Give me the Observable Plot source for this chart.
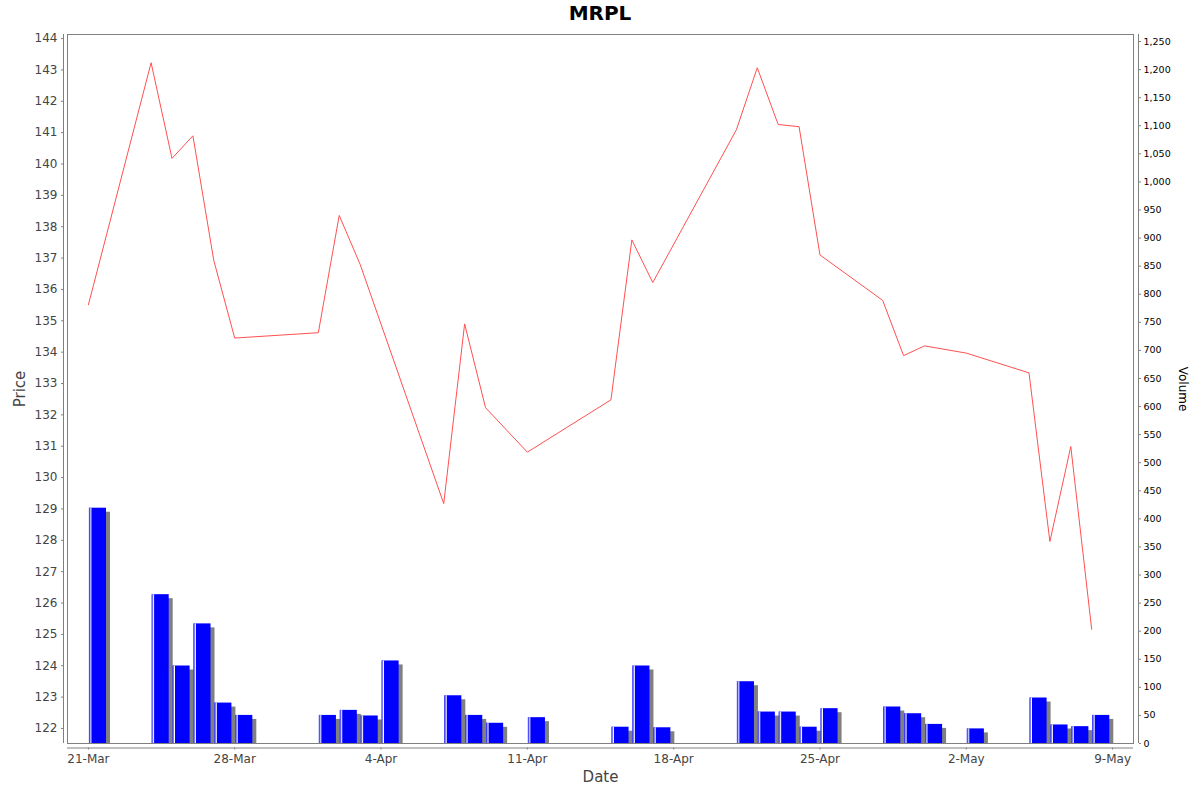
<!DOCTYPE html>
<html><head><meta charset="utf-8">
<script src="https://cdn.jsdelivr.net/npm/d3@7"></script>
<script src="https://cdn.jsdelivr.net/npm/@observablehq/plot@0.6"></script>
<style>
body{margin:0;background:#fff;font-family:"DejaVu Sans",sans-serif;}
#title{height:26px;line-height:26px;text-align:center;font-weight:bold;font-size:20px;color:#000;}
#chart svg{display:block;}
</style></head><body>
<div id="title">MRPL</div>
<div id="chart"></div>
<script>
const priceDates = ["2025-03-21","2025-03-24","2025-03-25","2025-03-26","2025-03-27","2025-03-28",
  "2025-04-01","2025-04-02","2025-04-03","2025-04-07","2025-04-08","2025-04-09","2025-04-11",
  "2025-04-15","2025-04-16","2025-04-17","2025-04-21","2025-04-22","2025-04-23","2025-04-24","2025-04-25",
  "2025-04-28","2025-04-29","2025-04-30","2025-05-02","2025-05-05","2025-05-06","2025-05-07","2025-05-08"];
const prices = [135.51,143.23,140.18,140.90,136.92,134.45,
  134.62,138.36,136.80,129.17,134.90,132.23,130.81,
  132.48,137.58,136.22,141.09,143.07,141.26,141.19,137.10,
  135.65,133.89,134.20,133.97,133.34,127.96,130.99,125.16];

const volumeDates = ["2025-03-21","2025-03-24","2025-03-25","2025-03-26","2025-03-27","2025-03-28",
  "2025-04-01","2025-04-02","2025-04-03","2025-04-04","2025-04-07","2025-04-08","2025-04-09","2025-04-11",
  "2025-04-15","2025-04-16","2025-04-17","2025-04-21","2025-04-22","2025-04-23","2025-04-24","2025-04-25",
  "2025-04-28","2025-04-29","2025-04-30","2025-05-02","2025-05-05","2025-05-06","2025-05-07","2025-05-08"];
const volumes = [419,265,138,213,72,50,
  50,59,49,147,85,50,36,46,
  29,138,28,110,56,56,29,62,
  65,53,34,26,81,33,30,50];

const priceTicks = [122,123,124,125,126,127,128,129,130,131,132,133,134,135,136,137,138,139,140,141,142,143,144];
const volumeTicks = [0,50,100,150,200,250,300,350,400,450,500,550,600,650,700,750,800,850,900,950,1000,1050,1100,1150,1200,1250];
const dateTicks = ["2025-03-21","2025-03-28","2025-04-04","2025-04-11","2025-04-18","2025-04-25","2025-05-02","2025-05-09"];

const parse = d3.utcParse("%Y-%m-%d");
const lo = 121.52, hi = 144.13, volMax = 1262.5;
const toY = v => lo + v * (hi - lo) / volMax;
const fromY = y => (y - lo) * volMax / (hi - lo);
const DAY = 864e5;
const priceData = priceDates.map((d, i) => ({date: parse(d), price: prices[i]}));
const volData = volumeDates.map((d, i) => ({date: parse(d), next: new Date(+parse(d) + DAY), vol: volumes[i]}));
const gray = "#808080";

const chart = Plot.plot({
  width: 1200, height: 766,
  marginTop: 8, marginBottom: 49, marginLeft: 67, marginRight: 67,
  style: {fontFamily: "DejaVu Sans, sans-serif", fontSize: "12px", background: "#fff", overflow: "visible"},
  x: {type: "utc", domain: [parse("2025-03-20"), parse("2025-05-10")]},
  y: {domain: [lo, hi]},
  marks: [
    Plot.rectY(volData, {x1: "date", x2: "next", y1: d => lo, y2: d => toY(d.vol), fill: gray, insetLeft: 1, insetRight: 2.8, insetTop: 4, dx: 4}),
    Plot.rectY(volData, {x1: "date", x2: "next", y1: d => lo, y2: d => toY(d.vol), fill: "#0000ff", insetLeft: 1, insetRight: 2.8}),
    Plot.ruleX(volData, {x: "date", y1: d => lo, y2: d => toY(d.vol), stroke: "#7878ff", dx: 1.5}),
    Plot.ruleX(volData, {x: "date", y1: d => lo, y2: d => toY(d.vol), stroke: "#ffffff", dx: 2.5}),
    Plot.line(priceData, {x: "date", y: "price", stroke: "#ff5050", strokeWidth: 1}),
    Plot.frame({stroke: gray}),
    Plot.ruleX([parse("2025-03-20")], {stroke: gray, dx: -4}),
    Plot.ruleX([parse("2025-05-10")], {stroke: gray, dx: 5}),
    Plot.ruleY([lo], {stroke: gray, dy: 4.5}),
    Plot.axisY(priceTicks, {anchor: "left", tickSize: 2, tickPadding: 4, dx: -4, color: "#444", stroke: gray, fontSize: 12, label: null}),
    Plot.axisY(volumeTicks.map(toY), {anchor: "right", tickSize: 2, tickPadding: 3, dx: 5, color: "#000", stroke: gray, fontSize: 9.5,
      tickFormat: y => d3.format(",")(Math.round(fromY(y))), label: null}),
    Plot.axisX(dateTicks.map(parse), {anchor: "bottom", tickSize: 2, tickPadding: 4, dy: 4.5, color: "#444", stroke: gray, fontSize: 12,
      tickFormat: d3.utcFormat("%-d-%b"), label: null}),
    Plot.text(["Price"], {text: d => d, frameAnchor: "left", textAnchor: "middle", rotate: -90, dx: -47, fontSize: 15, fill: "#444"}),
    Plot.text(["Date"], {text: d => d, frameAnchor: "bottom", textAnchor: "middle", dy: 38, fontSize: 15, fill: "#444"}),
    Plot.text(["Volume"], {text: d => d, frameAnchor: "right", textAnchor: "middle", rotate: 90, dx: 49, fontSize: 12, fill: "#000"})
  ]
});
document.getElementById("chart").appendChild(chart);
</script>
</body></html>
